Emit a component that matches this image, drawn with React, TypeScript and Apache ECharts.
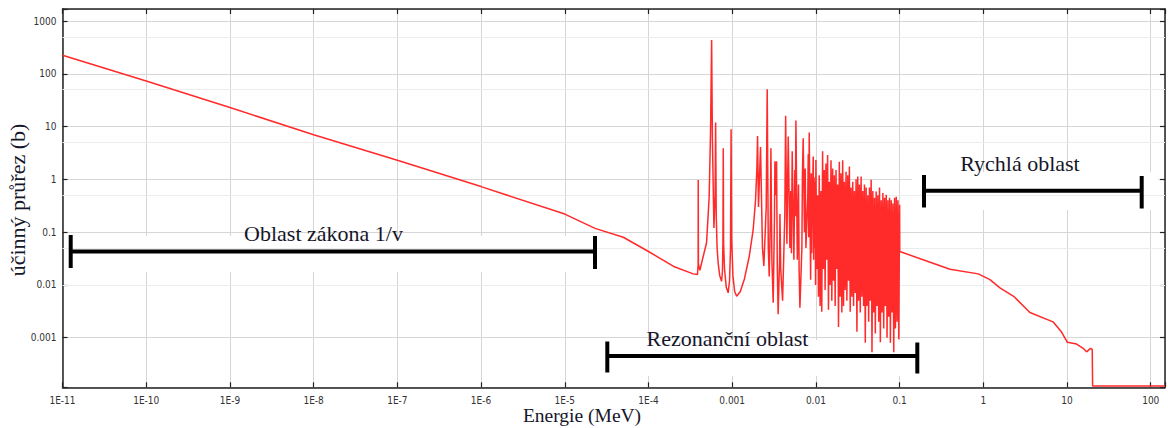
import React, { useEffect, useRef } from 'react';
import * as echarts from 'echarts';

// Axis ranges (MeV, barns)
const X_MIN = 1e-11;
const X_MAX = 148;
const Y_MIN = 1.15e-4;
const Y_MAX = 1690;

// Tick labels indexed by decade exponent
const xTickLabels: string[] = ['1E-11', '1E-10', '1E-9', '1E-8', '1E-7', '1E-6', '1E-5', '1E-4', '0.001', '0.01', '0.1', '1', '10', '100'];
const xTickFirstExp = -11;
const yTickLabels: string[] = ['0.001', '0.01', '0.1', '1', '10', '100', '1000'];
const yTickFirstExp = -3;

// Minor horizontal grid lines (5 x 10^n)
const minorGridValues: number[] = [5e-4, 5e-3, 5e-2, 0.5, 5, 50, 500];

// 1/v (thermal) region: [energy MeV, cross-section b]
const thermalRegion: [number, number][] = [
  [1e-11, 224], [1e-10, 73], [1e-9, 23], [1e-8, 7.0], [1e-7, 2.3], [1e-6, 0.73],
  [1e-5, 0.22], [2.3e-5, 0.118], [5e-5, 0.08], [1e-4, 0.043], [2e-4, 0.0224],
];

// Resolved resonances below 10 keV: valleys and peaks
const resonanceRegion: [number, number][] = [
  [3.42e-4, 0.0162], [3.85e-4, 0.0158], [3.92e-4, 0.025], [3.93e-4, 0.97], [3.95e-4, 0.025],
  [4.11e-4, 0.019], [4.51e-4, 0.035], [4.94e-4, 0.063], [5.31e-4, 0.47], [5.52e-4, 8.7],
  [5.68e-4, 437], [5.80e-4, 6.0], [6.05e-4, 0.12], [6.25e-4, 0.5], [6.34e-4, 11.9],
  [6.45e-4, 0.2], [6.6e-4, 0.05], [6.8e-4, 0.026], [7.1e-4, 0.015], [7.46e-4, 0.0117],
  [7.65e-4, 0.018], [7.75e-4, 0.06], [7.82e-4, 3.9], [7.9e-4, 0.06], [8.1e-4, 0.02],
  [8.5e-4, 0.009], [8.95e-4, 0.0071], [9.3e-4, 0.012], [9.55e-4, 0.05], [9.7e-4, 8.9],
  [9.85e-4, 0.08], [1.02e-3, 0.015], [1.07e-3, 0.0075], [1.13e-3, 0.0061], [1.25e-3, 0.0075],
  [1.4e-3, 0.013], [1.6e-3, 0.035], [1.78e-3, 0.11], [1.9e-3, 0.4], [1.97e-3, 1.5],
  [2.01e-3, 6.6], [2.06e-3, 0.3], [2.18e-3, 4.1], [2.30e-3, 0.05], [2.39e-3, 0.023], [2.55e-3, 0.3],
  [2.62e-3, 51], [2.70e-3, 0.05], [2.77e-3, 0.0145], [2.86e-3, 0.2], [2.90e-3, 3.9],
  [2.98e-3, 0.03], [3.09e-3, 0.0046], [3.2e-3, 0.2], [3.24e-3, 2.2], [3.30e-3, 0.5],
  [3.39e-3, 2.2], [3.46e-3, 0.02], [3.54e-3, 0.0028], [3.68e-3, 0.03], [3.72e-3, 0.22],
  [3.80e-3, 0.02], [4.0e-3, 0.005], [4.25e-3, 0.2], [4.35e-3, 16], [4.5e-3, 0.06],
  [4.67e-3, 6.5], [4.89e-3, 0.05], [5.0e-3, 0.6], [5.1e-3, 0.04], [5.21e-3, 3.4],
  [5.46e-3, 0.03], [5.6e-3, 1.5], [5.68e-3, 0.2], [5.77e-3, 13], [6.0e-3, 0.03],
  [6.2e-3, 0.8], [6.3e-3, 0.02], [6.44e-3, 0.0037], [6.8e-3, 0.05], [6.9e-3, 1.2],
  [7.05e-3, 6.0], [7.3e-3, 0.1], [7.45e-3, 1.6], [7.6e-3, 0.05], [8.0e-3, 0.5],
  [8.1e-3, 3.0], [8.2e-3, 0.08], [8.32e-3, 7.7], [8.65e-3, 0.0126], [8.8e-3, 1.3],
  [8.9e-3, 0.04], [9.0e-3, 0.2], [9.29e-3, 2.7], [9.4e-3, 0.03], [9.5e-3, 1.1],
  [9.64e-3, 0.05], [9.8e-3, 0.9], [9.9e-3, 0.01],
];

// Dense resonances 10 keV - 100 keV
const denseRegion: [number, number][] = [
  [1.000e-2, 2.34], [1.023e-2, 0.02], [1.047e-2, 0.5], [1.072e-2, 0.006], [1.096e-2, 1.2],
  [1.122e-2, 0.004], [1.148e-2, 0.6], [1.175e-2, 0.0031], [1.202e-2, 3.4], [1.230e-2, 0.02],
  [1.259e-2, 1.5], [1.288e-2, 0.008], [1.318e-2, 2.0], [1.349e-2, 0.03], [1.380e-2, 2.9],
  [1.413e-2, 0.0034], [1.445e-2, 0.9], [1.479e-2, 0.01], [1.514e-2, 2.3], [1.549e-2, 0.005],
  [1.585e-2, 1.6], [1.622e-2, 0.012], [1.660e-2, 1.2], [1.698e-2, 0.004], [1.738e-2, 1.5],
  [1.778e-2, 0.02], [1.820e-2, 0.8], [1.862e-2, 0.0016], [1.905e-2, 2.15], [1.950e-2, 0.006],
  [1.995e-2, 1.3], [2.042e-2, 0.003], [2.089e-2, 2.3], [2.138e-2, 0.004], [2.188e-2, 0.9],
  [2.239e-2, 0.008], [2.291e-2, 1.4], [2.344e-2, 0.005], [2.399e-2, 1.2], [2.455e-2, 0.012],
  [2.512e-2, 1.75], [2.570e-2, 0.0031], [2.630e-2, 0.7], [2.692e-2, 0.006], [2.754e-2, 0.9],
  [2.818e-2, 0.004], [2.884e-2, 0.6], [2.951e-2, 0.007], [3.020e-2, 1.0], [3.090e-2, 0.0013],
  [3.162e-2, 1.13], [3.236e-2, 0.005], [3.311e-2, 0.8], [3.388e-2, 0.003], [3.467e-2, 1.13],
  [3.548e-2, 0.006], [3.631e-2, 0.6], [3.715e-2, 0.004], [3.802e-2, 0.8], [3.890e-2, 0.0008],
  [3.981e-2, 0.7], [4.074e-2, 0.004], [4.169e-2, 0.5], [4.266e-2, 0.002], [4.365e-2, 0.7],
  [4.467e-2, 0.005], [4.571e-2, 0.98], [4.677e-2, 0.00053], [4.786e-2, 0.6], [4.898e-2, 0.003],
  [5.012e-2, 0.45], [5.129e-2, 0.0012], [5.248e-2, 0.59], [5.370e-2, 0.004], [5.495e-2, 0.5],
  [5.623e-2, 0.002], [5.754e-2, 0.7], [5.888e-2, 0.00082], [6.026e-2, 0.4], [6.166e-2, 0.003],
  [6.310e-2, 0.55], [6.457e-2, 0.0015], [6.607e-2, 0.45], [6.761e-2, 0.004], [6.918e-2, 0.51],
  [7.079e-2, 0.001], [7.244e-2, 0.4], [7.413e-2, 0.0025], [7.586e-2, 0.45], [7.762e-2, 0.0008],
  [7.943e-2, 0.4], [8.128e-2, 0.003], [8.318e-2, 0.35], [8.511e-2, 0.00053], [8.710e-2, 0.45],
  [8.913e-2, 0.0015], [9.120e-2, 0.47], [9.333e-2, 0.002], [9.550e-2, 0.4], [9.772e-2, 0.00094],
  [1.0e-1, 0.33],
];

// Fast region
const fastRegion: [number, number][] = [
  [0.1005, 0.043], [0.21, 0.0284], [0.40, 0.0198], [0.87, 0.0162], [1.2, 0.0126],
  [1.58, 0.0088], [2.3, 0.0061], [3.6, 0.0030], [6.8, 0.0020], [8.6, 0.00128],
  [10.1, 0.00082], [13, 0.00076], [15.6, 0.00063], [17.1, 0.00054], [19.1, 0.00063],
  [20, 0.0006], [20.2, 1.22e-4], [148, 1.22e-4],
];

const TICK_FONT = "'Liberation Sans Narrow', 'DejaVu Sans Condensed', 'Liberation Sans', sans-serif";
const SERIF = "'Liberation Serif', 'DejaVu Serif', serif";
const TEXT_COLOR = '#16162a';

function decadeExp(v: number): number | null {
  if (!(v > 0)) return null;
  const l = Math.log10(v);
  const r = Math.round(l);
  return Math.abs(l - r) < 1e-6 ? r : null;
}

export default function App() {
  const ref = useRef<HTMLDivElement>(null);

  useEffect(() => {
    const chart = echarts.init(ref.current!, null, { renderer: 'svg' });

    const xFormatter = (v: number) => {
      const e = decadeExp(v);
      if (e === null) return '';
      return xTickLabels[e - xTickFirstExp] ?? '';
    };
    const yFormatter = (v: number) => {
      const e = decadeExp(v);
      if (e === null) return '';
      return yTickLabels[e - yTickFirstExp] ?? '';
    };

    const axisLine = { show: true, lineStyle: { color: '#222', width: 1.5 } };
    const axisTick = { show: true, inside: true, length: 5, lineStyle: { color: '#222', width: 1.2 } };
    const splitLine = { show: true, lineStyle: { color: '#d6d6d6', width: 1 } };
    const labelStyle = { color: '#333', fontSize: 10, fontFamily: TICK_FONT };

    const allData = [...thermalRegion, ...resonanceRegion, ...denseRegion, ...fastRegion];

    const bar = (x1: number, x2: number, y: number, capTop: number, capBottom: number) => [
      { type: 'line', z: 10, silent: true, shape: { x1, y1: y, x2, y2: y }, style: { stroke: '#000', lineWidth: 4 } },
      { type: 'line', z: 10, silent: true, shape: { x1, y1: capTop, x2: x1, y2: capBottom }, style: { stroke: '#000', lineWidth: 4 } },
      { type: 'line', z: 10, silent: true, shape: { x1: x2, y1: capTop + 1, x2, y2: capBottom + 1 }, style: { stroke: '#000', lineWidth: 4 } },
    ];
    const label = (text: string, x: number, y: number, size = 22, rotation = 0) => ({
      type: 'text', z: 10, silent: true, x, y, rotation,
      style: { text, fill: TEXT_COLOR, fontSize: size, fontFamily: SERIF, textAlign: 'center', textVerticalAlign: 'middle' },
    });
    const whiteRect = (x: number, y: number, width: number, height: number) => ({
      type: 'rect', z: 2, silent: true, shape: { x, y, width, height }, style: { fill: '#ffffff' },
    });

    const xAxisBase = {
      type: 'log', logBase: 10, min: X_MIN, max: X_MAX, interval: 1, splitNumber: 13,
      axisLine, axisTick,
    };
    const yAxisBase = {
      type: 'log', logBase: 10, min: Y_MIN, max: Y_MAX, splitNumber: 7,
      axisLine, axisTick,
    };

    const option: any = {
      animation: false,
      backgroundColor: '#ffffff',
      grid: { left: 62.5, right: 3, top: 9, bottom: 40.7, containLabel: false },
      xAxis: [
        {
          ...xAxisBase, position: 'bottom',
          axisLabel: { ...labelStyle, margin: 8, formatter: xFormatter, showMinLabel: true, showMaxLabel: true, interval: 0 },
          splitLine,
        },
        { ...xAxisBase, position: 'top', axisLabel: { show: false }, splitLine: { show: false } },
      ],
      yAxis: [
        {
          ...yAxisBase, position: 'left',
          axisLabel: { ...labelStyle, margin: 6, formatter: yFormatter, interval: 0 },
          splitLine,
        },
        { ...yAxisBase, position: 'right', axisLabel: { show: false }, splitLine: { show: false } },
      ],
      series: [
        {
          type: 'line', data: [], z: 1, silent: true, xAxisIndex: 0, yAxisIndex: 0,
          markLine: {
            silent: true, symbol: ['none', 'none'], label: { show: false },
            lineStyle: { color: '#ececec', width: 1, type: 'solid' },
            emphasis: { disabled: true },
            data: minorGridValues.map((v) => ({ yAxis: v })),
          },
        },
        {
          type: 'line', data: allData, z: 5, xAxisIndex: 0, yAxisIndex: 0,
          showSymbol: false, symbol: 'none', silent: true,
          lineStyle: { color: '#ff2a2a', width: 1.5 },
        },
      ],
      graphic: {
        elements: [
          whiteRect(67, 236, 538, 36),
          whiteRect(596, 340, 334, 36),
          whiteRect(912, 172, 246, 38),
          ...bar(70.7, 595, 251.5, 235, 268),
          ...bar(607.3, 917.3, 356, 341.5, 372.5),
          ...bar(924, 1141.7, 190.7, 175, 207.5),
          label('Oblast zákona 1/v', 323.5, 233),
          label('Rezonanční oblast', 727.5, 338),
          label('Rychlá oblast', 1020, 163),
          label('Energie (MeV)', 582, 415.5, 19.5),
          label('účinný průřez (b)', 17, 200, 22, Math.PI / 2),
        ],
      },
    };

    chart.setOption(option);
    return () => chart.dispose();
  }, []);

  return (
    <div
      ref={ref}
      style={{ position: 'fixed', left: 0, top: 0, width: 1168, height: 428, background: '#ffffff' }}
    />
  );
}
